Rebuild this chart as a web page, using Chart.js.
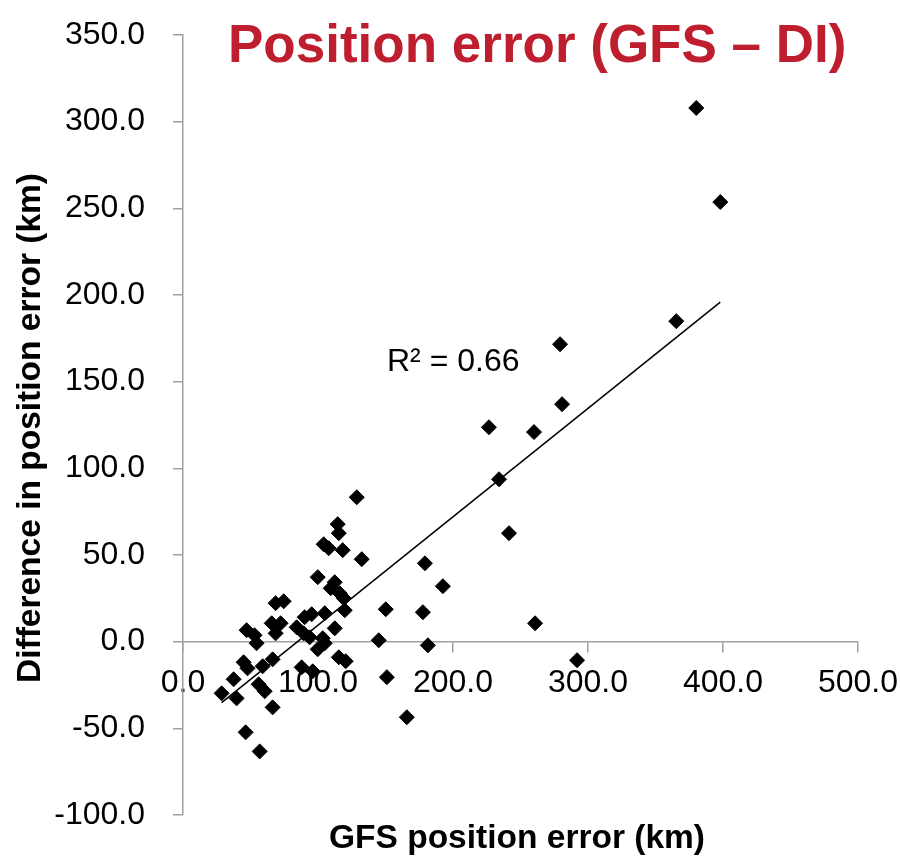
<!DOCTYPE html>
<html>
<head>
<meta charset="utf-8">
<script src="https://cdn.jsdelivr.net/npm/chart.js@4"></script>
<style>
  html, body { margin: 0; padding: 0; background: #fff; }
  #wrap { width: 900px; height: 858px; position: relative; }
</style>
</head>
<body>
<div id="wrap"><canvas id="grafico"></canvas></div>
<script>
// GFS position error (km)
const gfsError = [380.2, 398.0, 365.4, 279.3, 280.8, 226.6, 260.0, 234.1, 241.5, 128.7,
  114.6, 115.4, 104.2, 107.9, 118.3, 132.4, 179.2, 192.5, 150.2, 177.7,
  260.8, 145.0, 181.4, 291.9, 151.0, 165.8, 99.8, 112.4, 109.4, 116.1,
  119.1, 119.8, 105.0, 90.1, 95.3, 112.4, 84.2, 89.4, 93.8, 103.5,
  105.0, 99.8, 115.4, 120.5, 87.9, 96.1, 68.6, 74.6, 65.7, 72.3,
  68.6, 47.1, 53.0, 54.5, 44.9, 47.8, 59.0, 66.4, 37.5, 28.6,
  39.7, 56.0, 60.5, 66.4, 46.4, 56.8];
// Difference in position error GFS - DI (km)
const diffError = [307.9, 253.6, 184.9, 171.6, 137.0, 123.7, 120.9, 93.7, 62.6, 83.3,
  67.8, 62.6, 56.2, 53.9, 52.8, 47.6, 45.2, 32.0, 18.7, 17.0,
  10.6, 0.8, -2.1, -10.7, -20.5, -43.6, 37.2, 34.3, 30.8, 27.9,
  25.0, 18.1, 16.4, 14.1, 15.8, 7.7, 8.3, 4.8, 2.5, 2.0,
  -0.9, -4.4, -9.0, -11.3, -14.8, -17.1, 22.2, 23.3, 10.6, 10.6,
  4.8, 6.6, 3.7, -0.9, -11.9, -15.4, -14.2, -10.2, -21.7, -29.8,
  -32.7, -24.6, -28.6, -37.9, -52.3, -63.3];
// linear trendline ends
const trendX = [28.6, 398.0];
const trendY = [-35.2, 195.9];
const xTicks = [0, 100, 200, 300, 400, 500];
const yTicks = [-100, -50, 0, 50, 100, 150, 200, 250, 300, 350];
const r2Text = "R\u00B2 = 0.66";

const FONT = '"Liberation Sans", Arial, sans-serif';

// textos desenhados por cima (título, títulos dos eixos, R²)
const textos = {
    id: "textos",
    afterDraw(chart) {
        const ctx = chart.ctx;
        ctx.save();
        ctx.textAlign = "left";
        ctx.textBaseline = "alphabetic";
        ctx.fillStyle = "#be1e2d";
        ctx.font = "bold 53px " + FONT;
        ctx.fillText("Position error (GFS \u2013 DI)", 228, 62);

        ctx.fillStyle = "#000";
        ctx.font = "32px " + FONT;
        ctx.fillText(r2Text, 387, 371);

        ctx.font = "bold 33.5px " + FONT;
        ctx.textAlign = "center";
        ctx.fillText("GFS position error (km)", 517, 848);

        ctx.translate(40, 428);
        ctx.rotate(-Math.PI / 2);
        ctx.fillText("Difference in position error (km)", 0, 0);
        ctx.restore();
    }
};

new Chart(document.getElementById("grafico"), {
    type: "scatter",
    data: {
        datasets: [{
            label: "Trend",
            type: "line",
            data: trendX.map((x, i) => ({ x: x, y: trendY[i] })),
            borderColor: "#000",
            borderWidth: 1.5,
            pointRadius: 0,
            fill: false,
            order: 1
        }, {
            label: "Position error",
            data: gfsError.map((x, i) => ({ x: x, y: diffError[i] })),
            pointStyle: "rectRot",
            pointRadius: 7.5,
            backgroundColor: "#000",
            borderColor: "#000",
            borderWidth: 1,
            order: 2
        }]
    },
    options: {
        responsive: true,
        maintainAspectRatio: false,
        animation: false,
        layout: { padding: { left: 0, right: 42, top: 35, bottom: 43 } },
        plugins: { legend: { display: false }, tooltip: { enabled: false } },
        scales: {
            x: {
                type: "linear",
                position: { y: 0 },
                min: 0, max: 500,
                afterBuildTicks: s => { s.ticks = xTicks.map(v => ({ value: v })); },
                afterFit: s => { s.height = 43; s.paddingLeft = 0; s.paddingRight = 0; },
                ticks: {
                    color: "#000",
                    font: { family: FONT, size: 32 },
                    padding: 12,
                    maxRotation: 0,
                    autoSkip: false,
                    callback: v => v.toFixed(1)
                },
                grid: { drawOnChartArea: false, drawTicks: true, tickLength: 10, color: "#a0a0a0", lineWidth: 1.5 },
                border: { display: true, color: "#a0a0a0", width: 1.5 }
            },
            y: {
                type: "linear",
                position: "left",
                min: -100, max: 350,
                afterBuildTicks: s => { s.ticks = yTicks.map(v => ({ value: v })); },
                afterFit: s => { s.width = 183; s.paddingTop = 0; s.paddingBottom = 0; },
                ticks: {
                    color: "#000",
                    font: { family: FONT, size: 32 },
                    padding: 28,
                    autoSkip: false,
                    callback: v => v.toFixed(1)
                },
                grid: { drawOnChartArea: false, drawTicks: true, tickLength: 10, color: "#a0a0a0", lineWidth: 1.5 },
                border: { display: true, color: "#a0a0a0", width: 1.5 }
            }
        }
    },
    plugins: [textos]
});
</script>
</body>
</html>
